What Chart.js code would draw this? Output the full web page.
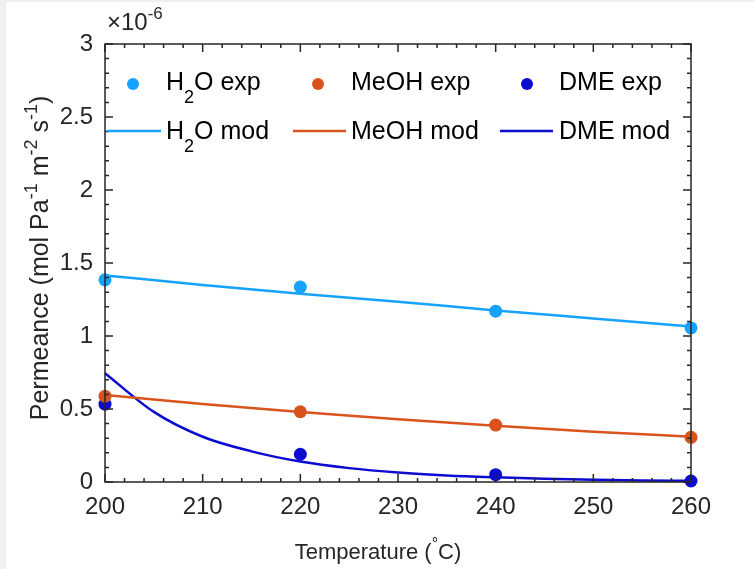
<!DOCTYPE html>
<html>
<head>
<meta charset="utf-8">
<script src="https://cdn.jsdelivr.net/npm/chart.js@4.4.1/dist/chart.umd.min.js"></script>
<style>
  html, body { margin: 0; padding: 0; background: #f0f0f0; }
  #wrap { position: absolute; left: 6px; top: 2px; width: 749px; height: 567px; background: #fff; }
  canvas { display: block; }
</style>
</head>
<body>
<div id="wrap"><canvas id="c" width="749" height="567"></canvas></div>
<script>
// ─── Data (permeance in units of 1e-6 mol Pa^-1 m^-2 s^-1) ───────────────────
const EXP_TEMPS = [200, 220, 240, 260];
const H2O_EXP   = [1.385, 1.335, 1.17, 1.055];
const MEOH_EXP  = [0.588, 0.481, 0.39, 0.306];
const DME_EXP   = [0.533, 0.19, 0.05, 0.007];

const MOD_TEMPS = [200, 210, 220, 230, 240, 250, 260];
const H2O_MOD   = [1.415, 1.35, 1.29, 1.235, 1.175, 1.12, 1.065];
const MEOH_MOD  = [0.596, 0.535, 0.48, 0.43, 0.385, 0.345, 0.31];

const DME_TEMPS = [200, 205, 210, 215, 220, 225, 230, 235, 240, 245, 250, 255, 260];
const DME_MOD   = [0.745, 0.48, 0.31, 0.21, 0.14, 0.095, 0.065, 0.045, 0.032, 0.022, 0.016, 0.011, 0.008];

const X_TICKS = [200, 210, 220, 230, 240, 250, 260];
const Y_TICKS = [0, 0.5, 1, 1.5, 2, 2.5, 3];

const C_H2O  = '#16a2ff';
const C_MEOH = '#d9531c';
const C_DME  = '#0b0bd2';
const AXIS   = '#262626';
const FONT   = '"Liberation Sans", Arial, Helvetica, sans-serif';

const pts = (xs, ys) => xs.map((x, i) => ({ x, y: ys[i] }));

// ─── Rich text helper (sub/superscripts) ─────────────────────────────────────
function richWidth(ctx, segs, size) {
  let w = 0;
  segs.forEach(s => {
    ctx.font = (s.s ? Math.round(size * 0.72) : size) + 'px ' + FONT;
    w += ctx.measureText(s.t).width;
  });
  return w;
}

function drawRich(ctx, x, y, segs, size, align) {
  const w = richWidth(ctx, segs, size);
  let cx = align === 'center' ? x - w / 2 : x;
  ctx.textBaseline = 'alphabetic';
  ctx.textAlign = 'left';
  segs.forEach(s => {
    const sz = s.s ? Math.round(size * 0.72) : size;
    ctx.font = sz + 'px ' + FONT;
    let dy = 0;
    if (s.s === 'sub') dy = size * 0.5;
    if (s.s === 'sup') dy = -size * 0.45;
    ctx.fillText(s.t, cx, y + dy);
    cx += ctx.measureText(s.t).width;
  });
}

// ─── Frame, inward ticks, titles, legend ────────────────────────────────────
const decor = {
  id: 'decor',
  afterDraw(chart) {
    const { ctx, chartArea: a, scales: { x, y } } = chart;
    ctx.save();
    ctx.strokeStyle = AXIS;
    ctx.lineWidth = 1.5;
    ctx.strokeRect(a.left, a.top, a.right - a.left, a.bottom - a.top);

    ctx.beginPath();
    for (let v = 200; v <= 260; v += 2) {
      const px = x.getPixelForValue(v);
      const len = (v % 10 === 0) ? 8 : 4;
      ctx.moveTo(px, a.bottom); ctx.lineTo(px, a.bottom - len);
      ctx.moveTo(px, a.top);    ctx.lineTo(px, a.top + len);
    }
    for (let k = 0; k <= 30; k++) {
      const py = y.getPixelForValue(k / 10);
      const len = (k % 5 === 0) ? 8 : 4;
      ctx.moveTo(a.left, py);  ctx.lineTo(a.left + len, py);
      ctx.moveTo(a.right, py); ctx.lineTo(a.right - len, py);
    }
    ctx.stroke();

    // exponent
    ctx.fillStyle = AXIS;
    drawRich(ctx, 101, 28, [{ t: '\u00d710' }, { t: '-6', s: 'sup' }], 24, 'left');

    // x title
    drawRich(ctx, 372, 557, [{ t: 'Temperature (' }, { t: '\u00b0', s: 'sup' }, { t: 'C)' }], 22, 'center');

    // y title
    ctx.save();
    ctx.translate(42, 256);
    ctx.rotate(-Math.PI / 2);
    drawRich(ctx, 0, 0, [
      { t: 'Permeance (mol Pa' }, { t: '-1', s: 'sup' },
      { t: ' m' }, { t: '-2', s: 'sup' },
      { t: ' s' }, { t: '-1', s: 'sup' }, { t: ')' }
    ], 25, 'center');
    ctx.restore();

    // legend
    const rows = [
      { c: C_H2O,  mx: 127, lx: [101, 155], tx: 160, exp: [{ t: 'H' }, { t: '2', s: 'sub' }, { t: 'O exp' }], mod: [{ t: 'H' }, { t: '2', s: 'sub' }, { t: 'O mod' }] },
      { c: C_MEOH, mx: 312, lx: [287, 340], tx: 345, exp: [{ t: 'MeOH exp' }], mod: [{ t: 'MeOH mod' }] },
      { c: C_DME,  mx: 521, lx: [494, 547], tx: 553, exp: [{ t: 'DME exp' }], mod: [{ t: 'DME mod' }] }
    ];
    rows.forEach(r => {
      ctx.fillStyle = r.c;
      ctx.beginPath(); ctx.arc(r.mx, 82, 6, 0, Math.PI * 2); ctx.fill();
      ctx.strokeStyle = r.c; ctx.lineWidth = 2.5;
      ctx.beginPath(); ctx.moveTo(r.lx[0], 129); ctx.lineTo(r.lx[1], 129); ctx.stroke();
      ctx.fillStyle = '#000';
      drawRich(ctx, r.tx, 88, r.exp, 25, 'left');
      drawRich(ctx, r.tx, 137, r.mod, 25, 'left');
    });
    ctx.restore();
  }
};

const lineDs = (label, data, color) => ({
  label, data, type: 'line', borderColor: color, borderWidth: 2.5,
  pointRadius: 0, fill: false, tension: 0.4, cubicInterpolationMode: 'monotone', clip: false, order: 2
});
const dotDs = (label, data, color) => ({
  label, data, type: 'scatter', backgroundColor: color, borderColor: color,
  pointRadius: 6.5, pointHoverRadius: 6.5, borderWidth: 0, clip: false, order: 1
});

new Chart(document.getElementById('c'), {
  type: 'scatter',
  data: {
    datasets: [
      lineDs('H2O mod',  pts(MOD_TEMPS, H2O_MOD),  C_H2O),
      lineDs('MeOH mod', pts(MOD_TEMPS, MEOH_MOD), C_MEOH),
      lineDs('DME mod',  pts(DME_TEMPS, DME_MOD),  C_DME),
      dotDs('H2O exp',  pts(EXP_TEMPS, H2O_EXP),  C_H2O),
      dotDs('MeOH exp', pts(EXP_TEMPS, MEOH_EXP), C_MEOH),
      dotDs('DME exp',  pts(EXP_TEMPS, DME_EXP),  C_DME)
    ]
  },
  options: {
    responsive: false,
    animation: false,
    layout: { padding: { left: 0, top: 42, right: 64, bottom: 0 } },
    plugins: { legend: { display: false }, tooltip: { enabled: false } },
    scales: {
      x: {
        type: 'linear', min: 200, max: 260,
        grid: { display: false, drawTicks: false }, border: { display: false },
        afterBuildTicks: s => { s.ticks = X_TICKS.map(v => ({ value: v })); },
        afterFit: s => { s.height = 87; },
        ticks: { color: AXIS, padding: 11, font: { family: FONT, size: 24 }, callback: v => String(v) }
      },
      y: {
        type: 'linear', min: 0, max: 3,
        grid: { display: false, drawTicks: false }, border: { display: false },
        afterBuildTicks: s => { s.ticks = Y_TICKS.map(v => ({ value: v })); },
        afterFit: s => { s.width = 99; },
        ticks: { color: AXIS, padding: 12, font: { family: FONT, size: 24 }, callback: v => String(v) }
      }
    }
  },
  plugins: [decor]
});
</script>
</body>
</html>
